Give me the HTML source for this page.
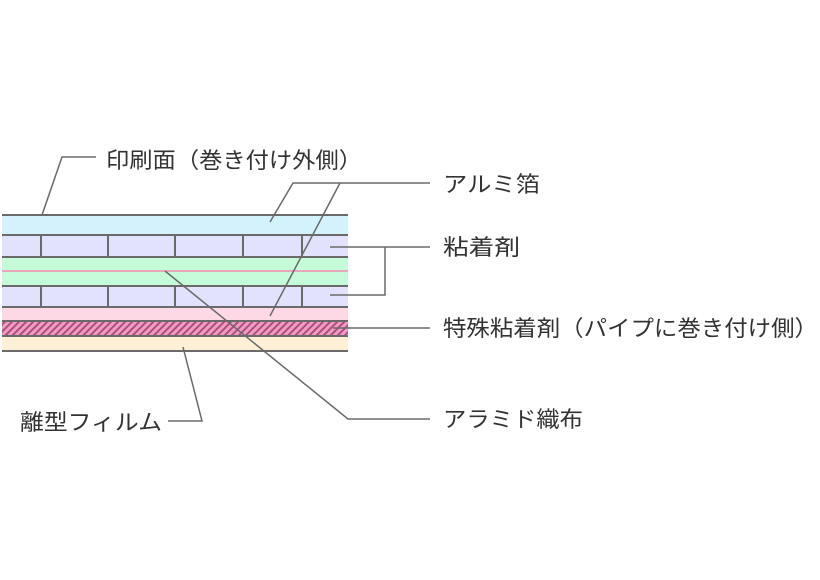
<!DOCTYPE html>
<html><head><meta charset="utf-8"><style>
html,body{margin:0;padding:0;background:#fff;width:820px;height:580px;overflow:hidden}
</style></head><body>
<svg width="820" height="580" viewBox="0 0 820 580" xmlns="http://www.w3.org/2000/svg" font-family="'Liberation Sans','Noto Sans CJK JP',sans-serif">
<defs>
<pattern id="h" patternUnits="userSpaceOnUse" width="5" height="5" patternTransform="rotate(45)">
<rect width="5" height="5" fill="#f49cc0"/><rect width="2" height="5" fill="#a85080"/>
</pattern>
</defs>
<rect x="2" y="215" width="346" height="20" fill="#d4f2fc"/>
<rect x="2" y="235" width="346" height="22" fill="#e2e2fc"/>
<rect x="2" y="257" width="346" height="29" fill="#c6fbd9"/>
<rect x="2" y="286" width="346" height="21" fill="#e2e2fc"/>
<rect x="2" y="307" width="346" height="14" fill="#fdd9e5"/>
<rect x="2" y="321" width="346" height="15" fill="url(#h)"/>
<rect x="2" y="336" width="346" height="15" fill="#fdf0d6"/>
<g stroke="#6a6a6a" stroke-width="2" fill="none">
<path d="M2 215H348M2 235H348M2 257H348M2 286H348M2 307H348M2 321H348M2 336H348M2 351H348"/>
<path d="M41 235V257M108 235V257M175 235V257M243 235V257M302 235V257"/>
<path d="M41 286V307M108 286V307M175 286V307M243 286V307M302 286V307"/>
</g>
<path d="M2 271H348" stroke="#f08cb0" stroke-width="1.5"/>
<g stroke="#6a6a6a" stroke-width="1.5" fill="none">
<path d="M42 215L62 157H96"/>
<path d="M270 222L293 183H430M340 183L270 316"/>
<path d="M330 247H385V295H330M385 247H430"/>
<path d="M333 328H430"/>
<path d="M165 271L348 419H430"/>
<path d="M183 347L202 421H168"/>
</g>
<g font-size="22" fill="#333" lengthAdjust="spacingAndGlyphs">
<text x="106" y="168" textLength="256" lengthAdjust="spacingAndGlyphs">印刷面（巻き付け外側）</text>
<text x="443" y="192" textLength="97" lengthAdjust="spacingAndGlyphs">アルミ箔</text>
<text x="443" y="255" textLength="77" lengthAdjust="spacingAndGlyphs">粘着剤</text>
<text x="443" y="336" textLength="375" lengthAdjust="spacingAndGlyphs">特殊粘着剤（パイプに巻き付け側）</text>
<text x="443" y="427" textLength="140" lengthAdjust="spacingAndGlyphs">アラミド織布</text>
<text x="20" y="430" textLength="142" lengthAdjust="spacingAndGlyphs">離型フィルム</text>
</g>
</svg>
</body></html>
